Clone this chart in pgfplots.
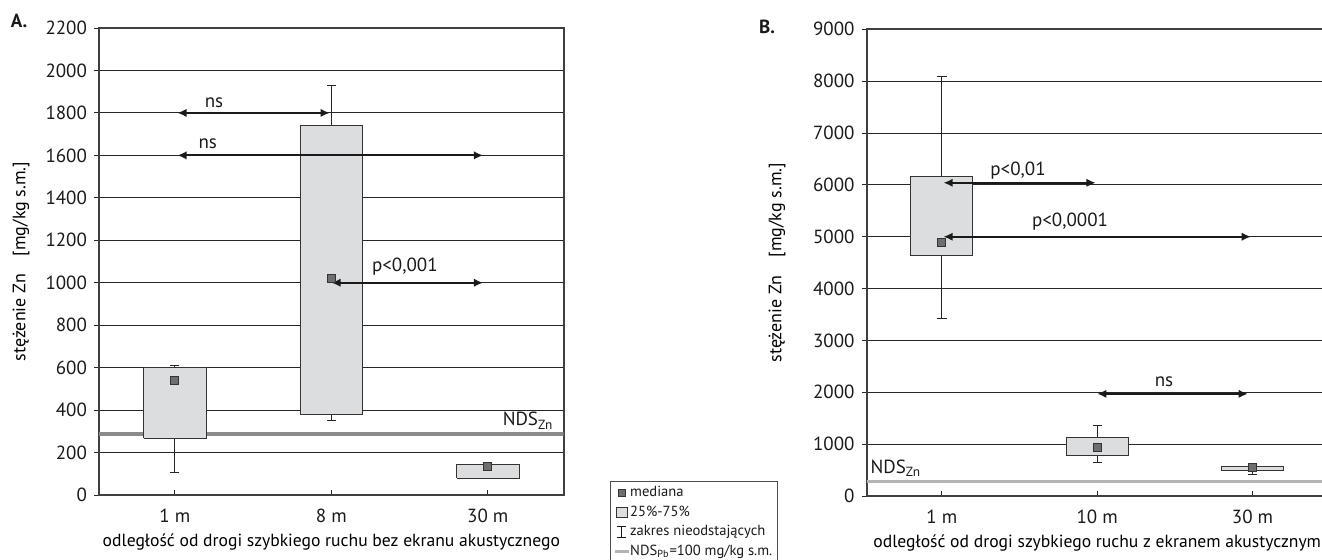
\documentclass[border=0pt]{standalone}
\usepackage{fontspec}
\setmainfont{PT Sans}
\usepackage{pgfplots}
\pgfplotsset{compat=1.18}
\usetikzlibrary{arrows.meta}

\definecolor{boxgray}{HTML}{DCDDDF}
\definecolor{medgray}{HTML}{6E6E6E}
\definecolor{ndsA}{HTML}{8A8A8A}
\definecolor{ndsB}{HTML}{B4B4B4}
\definecolor{ink}{HTML}{1A1A1A}

\tikzset{znlab/.style={font=\fontsize{9.5}{10}\selectfont, text=ink}}

\pgfplotsset{
  zn/.style={
    scale only axis,
    xmin=0.515, xmax=3.485,
    xtick={1,2,3},
    tick pos=left,
    xtick align=inside, ytick align=outside,
    major tick length=2.5pt,
    tick style={black!85, line width=0.5pt},
    ymajorgrids, grid style={black!85, line width=0.45pt},
    axis line style={black!75, line width=1pt},
    tick label style={font=\fontsize{9.5}{11}\selectfont, text=ink},
    /pgf/number format/assume math mode=true,
    /pgf/number format/1000 sep={},
    xticklabel style={yshift=-3.2pt},
    label style={text=ink},
    every axis x label/.style={at={(axis description cs:0.5,0)}, anchor=center,
      yshift=-23.5pt, font=\fontsize{8.8}{10}\selectfont},
  },
  znwhisk/.style={forget plot, black!85, line width=0.5pt, mark=-, mark size=2.3pt,
    mark options={solid, line width=0.5pt}},
  znbox/.style={forget plot, draw=black!80, fill=boxgray, line width=0.5pt, no marks},
  znmed/.style={forget plot, only marks, mark=square*, mark size=2pt,
    mark options={fill=medgray, draw=black!80, line width=0.5pt}},
  znarr/.style={forget plot, ink, line width=1.1pt, no marks,
    arrows={Latex[length=4.6pt,width=4.2pt]-Latex[length=4.6pt,width=4.2pt]}},
}

\begin{document}
\begin{tikzpicture}
% ---------- A ----------
\begin{axis}[zn,
  at={(49.5pt,32pt)}, anchor=south west,
  width=232.35pt, height=233.5pt,
  ymin=0, ymax=2200, ytick distance=200,
  xticklabels={1 m, 8 m, 30 m},
  xlabel={odległość od drogi szybkiego ruchu bez ekranu akustycznego},
  ylabel={stężenie Zn\hspace{1em}[mg/kg s.m.]},
  every axis y label/.style={at={(axis description cs:-0.168,0.5)}, rotate=90,
    anchor=center, font=\fontsize{9}{10}\selectfont},
  legend style={at={(axis description cs:1.0996,0.03)}, anchor=north west,
    draw=black!70, line width=0.4pt, font=\fontsize{7.3}{8}\selectfont,
    inner xsep=1.5pt, inner ysep=1.5pt, row sep=1.3pt, column sep=-1pt,
    nodes={inner sep=0.9pt, text=ink}},
  legend cell align=left,
]
\addplot[forget plot, ndsA, line width=1.7pt] coordinates {(0.515,287) (3.485,287)};

% whiskers (min--max of non-outliers)
\addplot[znwhisk] coordinates {(1,108) (1,611)};
\addplot[znwhisk] coordinates {(2,353) (2,1930)};
% boxes 25%-75%
\addplot[znbox] coordinates {(0.8,267) (1.2,267) (1.2,600) (0.8,600) (0.8,267)};
\addplot[znbox] coordinates {(1.8,381) (2.2,381) (2.2,1742) (1.8,1742) (1.8,381)};
\addplot[znbox] coordinates {(2.8,79) (3.2,79) (3.2,145) (2.8,145) (2.8,79)};
% medians
\addplot[znmed] coordinates {(1,538) (2,1020) (3,132)};

\addplot[znarr] coordinates {(1.016,1800) (1.99,1800)};
\addplot[znarr] coordinates {(1.016,1600) (2.97,1600)};
\addplot[znarr] coordinates {(2.0,1000) (2.97,1000)};
\node[znlab] at (axis cs:1.25,1850) {ns};
\node[znlab] at (axis cs:1.21,1655) {ns};
\node[znlab] at (axis cs:2.47,1075) {p<0,001};
\node[znlab] at (axis cs:3.257,350) {NDS\textsubscript{Zn}};

\addlegendimage{legend image code/.code={%
  \draw[fill=medgray, draw=black!80, line width=0.4pt] (0.9pt,-1.9pt) rectangle (4.7pt,1.9pt);}}
\addlegendentry{mediana}
\addlegendimage{legend image code/.code={%
  \draw[fill=boxgray, draw=black!80, line width=0.4pt] (0pt,-2.7pt) rectangle (5.4pt,2.7pt);}}
\addlegendentry{25\%-75\%}
\addlegendimage{legend image code/.code={%
  \draw[ink, line width=0.5pt] (0.6pt,-2.8pt) -- (4.8pt,-2.8pt)
    (2.7pt,-2.8pt) -- (2.7pt,2.8pt) (0.6pt,2.8pt) -- (4.8pt,2.8pt);}}
\addlegendentry{zakres nieodstających}
\addlegendimage{legend image code/.code={%
  \draw[ndsB, line width=1.7pt] (-0.6pt,0pt) -- (6.2pt,0pt);}}
\addlegendentry{NDS\textsubscript{Pb}=100 mg/kg s.m.}
\end{axis}
\node[font=\bfseries\fontsize{9.5}{11}\selectfont, text=ink] at (9.5pt,269pt) {A.};

% ---------- B ----------
\begin{axis}[zn,
  at={(433.3pt,31.5pt)}, anchor=south west,
  width=230.6pt, height=233.35pt,
  ymin=0, ymax=9000, ytick distance=1000,
  xticklabels={1 m, 10 m, 30 m},
  xlabel={odległość od drogi szybkiego ruchu z ekranem akustycznym},
  ylabel={stężenie Zn\hspace{1em}[mg/kg s.m.]},
  every axis y label/.style={at={(axis description cs:-0.194,0.5)}, rotate=90,
    anchor=center, font=\fontsize{9}{10}\selectfont},
]
\addplot[forget plot, ndsB, line width=1.7pt] coordinates {(0.515,276) (3.485,276)};

\addplot[znwhisk] coordinates {(1,3424) (1,8090)};
\addplot[znwhisk] coordinates {(2,655) (2,1355)};
\addplot[znwhisk] coordinates {(3,424) (3,590)};
\addplot[znbox] coordinates {(0.8,4631) (1.2,4631) (1.2,6167) (0.8,6167) (0.8,4631)};
\addplot[znbox] coordinates {(1.8,784) (2.2,784) (2.2,1124) (1.8,1124) (1.8,784)};
\addplot[znbox] coordinates {(2.8,495) (3.2,495) (3.2,560) (2.8,560) (2.8,495)};
\addplot[znmed] coordinates {(1,4889) (2,938) (3,555)};

\addplot[znarr] coordinates {(1.01,6040) (1.99,6040)};
\addplot[znarr] coordinates {(1.01,5000) (2.99,5000)};
\addplot[znarr] coordinates {(2.0,1970) (2.97,1970)};
\node[znlab] at (axis cs:1.49,6270) {p<0,01};
\node[znlab] at (axis cs:1.825,5300) {p<0,0001};
\node[znlab] at (axis cs:2.43,2210) {ns};
\node[znlab] at (axis cs:0.704,540) {NDS\textsubscript{Zn}};
\end{axis}
\node[font=\bfseries\fontsize{9.5}{11}\selectfont, text=ink] at (383.5pt,266pt) {B.};

\pgfresetboundingbox
\path[use as bounding box] (0pt,0pt) rectangle (661pt,279.5pt);
\end{tikzpicture}
\end{document}
